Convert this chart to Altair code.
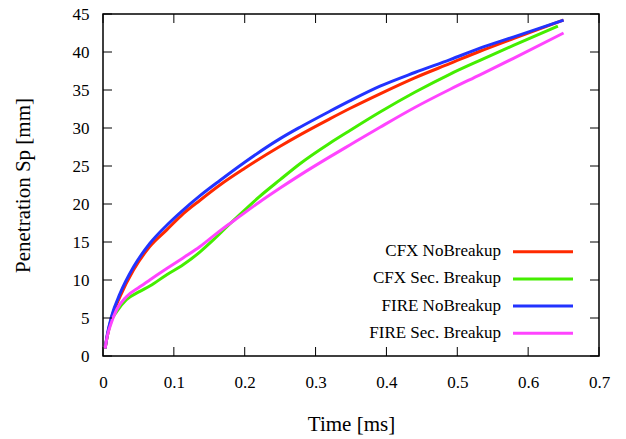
import altair as alt
import pandas as pd

# ---------------- data ----------------
series_names = ["CFX NoBreakup", "CFX Sec. Breakup", "FIRE NoBreakup", "FIRE Sec. Breakup"]
series_colors = ["#ff2a00", "#44ee00", "#2233ff", "#ff44ff"]

cfx_nb_t = [0.003, 0.006, 0.012, 0.024, 0.043, 0.066, 0.090, 0.113, 0.137, 0.165,
            0.200, 0.250, 0.278, 0.320, 0.349, 0.391, 0.440, 0.490, 0.532, 0.580, 0.650]
cfx_nb_v = [1.0, 2.6, 5.0, 7.8, 11.3, 14.4, 16.6, 18.7, 20.5, 22.5,
            24.7, 27.6, 29.1, 31.2, 32.6, 34.5, 36.6, 38.5, 40.1, 41.8, 44.2]

cfx_sb_t = [0.003, 0.006, 0.012, 0.019, 0.033, 0.052, 0.066, 0.090, 0.113, 0.137, 0.156,
            0.177, 0.193, 0.220, 0.250, 0.278, 0.320, 0.349, 0.391, 0.440, 0.490, 0.532,
            0.580, 0.642]
cfx_sb_v = [1.0, 2.6, 4.7, 5.8, 7.4, 8.5, 9.2, 10.7, 12.0, 13.7, 15.3,
            17.2, 18.6, 20.9, 23.2, 25.3, 28.0, 29.7, 32.1, 34.7, 37.1, 38.9,
            40.9, 43.4]

fire_nb_t = [0.003, 0.006, 0.012, 0.024, 0.043, 0.066, 0.090, 0.113, 0.137, 0.165,
             0.200, 0.250, 0.278, 0.320, 0.349, 0.391, 0.440, 0.490, 0.532, 0.580, 0.650]
fire_nb_v = [1.0, 2.8, 5.2, 8.2, 11.7, 14.8, 17.2, 19.2, 21.1, 23.1,
             25.5, 28.6, 30.1, 32.2, 33.6, 35.5, 37.3, 39.0, 40.5, 42.0, 44.2]

fire_sb_t = [0.003, 0.006, 0.010, 0.019, 0.033, 0.052, 0.066, 0.090, 0.113, 0.137, 0.156,
             0.177, 0.186, 0.220, 0.250, 0.278, 0.320, 0.349, 0.391, 0.440, 0.490, 0.532,
             0.580, 0.650]
fire_sb_v = [1.0, 2.6, 3.9, 6.05, 7.8, 9.1, 10.0, 11.5, 12.9, 14.4, 15.8,
             17.3, 17.9, 20.2, 22.1, 23.8, 26.2, 27.8, 30.1, 32.7, 35.1, 37.0,
             39.2, 42.5]

x_ticks = [0, 0.1, 0.2, 0.3, 0.4, 0.5, 0.6, 0.7]
y_ticks = [0, 5, 10, 15, 20, 25, 30, 35, 40, 45]

# ---------------- build tables ----------------
rows = []
for name, ts, vs in zip(series_names,
                        [cfx_nb_t, cfx_sb_t, fire_nb_t, fire_sb_t],
                        [cfx_nb_v, cfx_sb_v, fire_nb_v, fire_sb_v]):
    for t, v in zip(ts, vs):
        rows.append({"series": name, "t": t, "v": v})
df = pd.DataFrame(rows)
legend_df = pd.DataFrame({"series": series_names, "idx": list(range(len(series_names)))})
xt_df = pd.DataFrame({"t": x_ticks})
yt_df = pd.DataFrame({"v": y_ticks})

W, H = 496, 342
FONT = "Liberation Serif"
TICK = 9

color_scale = alt.Scale(domain=series_names, range=series_colors)
x_scale = alt.Scale(domain=[0, 0.7], nice=False, zero=False)
y_scale = alt.Scale(domain=[0, 45], nice=False, zero=False)

x_axis = alt.Axis(values=x_ticks, format="~g", ticks=False, domain=False, grid=False,
                  labelFont=FONT, labelFontSize=17, labelColor="black", labelPadding=18.5,
                  labelOverlap=False, labelFlush=False,
                  title="Time [ms]", titleFont=FONT, titleFontSize=21, titleFontWeight="normal",
                  titleColor="black", titleBaseline="alphabetic", titleY=74, titleX=W / 2,
                  titleAnchor="middle")
y_axis = alt.Axis(values=y_ticks, ticks=False, domain=False, grid=False,
                  labelFont=FONT, labelFontSize=17, labelColor="black", labelPadding=14,
                  labelOverlap=False, labelFlush=False,
                  title="Penetration Sp [mm]", titleFont=FONT, titleFontSize=21,
                  titleFontWeight="normal", titleColor="black", titleBaseline="alphabetic",
                  titleX=-74, titleY=H / 2, titleAnchor="middle", titleAngle=-90)

lines = alt.Chart(df).mark_line(strokeWidth=3, clip=True, interpolate="monotone").encode(
    x=alt.X("t:Q", scale=x_scale, axis=x_axis),
    y=alt.Y("v:Q", scale=y_scale, axis=y_axis),
    color=alt.Color("series:N", scale=color_scale, legend=None, sort=series_names),
    order=alt.Order("t:Q"),
    detail="series:N",
)

tick_style = dict(color="black", strokeWidth=1)
xt_bottom = alt.Chart(xt_df).mark_rule(**tick_style).encode(
    x=alt.X("t:Q", scale=x_scale, axis=x_axis), y=alt.value(H), y2=alt.value(H - TICK))
xt_top = alt.Chart(xt_df).mark_rule(**tick_style).encode(
    x=alt.X("t:Q", scale=x_scale, axis=x_axis), y=alt.value(0), y2=alt.value(TICK))
yt_left = alt.Chart(yt_df).mark_rule(**tick_style).encode(
    y=alt.Y("v:Q", scale=y_scale, axis=y_axis), x=alt.value(0), x2=alt.value(TICK))
yt_right = alt.Chart(yt_df).mark_rule(**tick_style).encode(
    y=alt.Y("v:Q", scale=y_scale, axis=y_axis), x=alt.value(W), x2=alt.value(W - TICK))

# manual legend (inside the plot, lower right)
leg_base = alt.Chart(legend_df).transform_calculate(
    ly="237.7 + 27.2 * datum.idx", ty="242.2 + 27.2 * datum.idx")
leg_lines = leg_base.mark_rule(strokeWidth=3).encode(
    x=alt.value(410), x2=alt.value(470),
    y=alt.Y("ly:Q", scale=None),
    color=alt.Color("series:N", scale=color_scale, legend=None),
)
leg_text = leg_base.mark_text(align="right", baseline="alphabetic", font=FONT,
                              fontSize=17, color="black").encode(
    x=alt.value(398),
    y=alt.Y("ty:Q", scale=None),
    text="series:N",
)

chart = alt.layer(
    lines, xt_bottom, xt_top, yt_left, yt_right, leg_lines, leg_text
).properties(
    width=W, height=H,
    autosize=alt.AutoSizeParams(type="none"),
    padding={"left": 103, "top": 14, "right": 27, "bottom": 83},
    background="white",
).configure(
    font=FONT,
).configure_axis(
    labelFont=FONT, titleFont=FONT, labelFontSize=17, titleFontSize=21,
    labelColor="black", titleColor="black",
).configure_text(
    font=FONT,
).configure_view(stroke="black", strokeWidth=1.5)

chart.save("out.html", embed_options={"renderer": "svg", "actions": False})
